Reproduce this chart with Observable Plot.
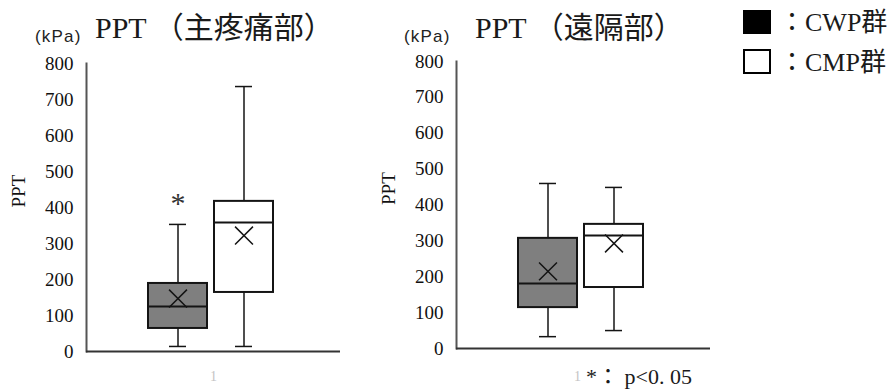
<!DOCTYPE html>
<html><head><meta charset="utf-8">
<script src="https://cdn.jsdelivr.net/npm/d3@7"></script>
<script src="https://cdn.jsdelivr.net/npm/@observablehq/plot@0.6"></script>
<style>
body{margin:0;background:#fff;}
#wrap{position:relative;width:894px;height:390px;overflow:hidden;font-family:"Liberation Serif","Noto Sans CJK JP",serif;color:#111;}
#wrap svg, #wrap svg text{font-family:"Liberation Serif","Noto Sans CJK JP",serif !important;}
#wrap svg{overflow:visible;background:transparent;}
.abs{position:absolute;white-space:nowrap;line-height:1;}
.title{font-size:30px;color:#1a1a1a;}
.unit{font-family:"Liberation Sans","Noto Sans CJK JP",sans-serif;font-size:17px;letter-spacing:1.2px;color:#222;}
.leg{font-size:26px;color:#1a1a1a;}
.sq{position:absolute;box-sizing:border-box;width:28px;}
.panel{position:absolute;top:0;}
</style></head><body>
<div id="wrap">
  <div class="abs unit" style="left:35px;top:28px;">(kPa)</div>
  <div class="abs title" style="left:95px;top:13px;">PPT （主疼痛部）</div>
  <div class="abs unit" style="left:404px;top:28px;">(kPa)</div>
  <div class="abs title" style="left:475px;top:13px;">PPT （遠隔部）</div>
  <div class="sq" style="left:743px;top:10px;height:24px;background:#000;"></div>
  <div class="sq" style="left:743px;top:49px;height:25px;background:#fff;border:2px solid #000;"></div>
  <div class="abs leg" style="left:779px;top:10px;">：CWP群</div>
  <div class="abs leg" style="left:779px;top:50px;">：CMP群</div>
  <div class="abs" style="left:586px;top:366px;font-size:22px;color:#1a1a1a;">*：&nbsp;p&lt;0.&nbsp;05</div>
  <div id="p1" class="panel" style="left:0px;"></div>
  <div id="p2" class="panel" style="left:370px;"></div>
</div>
<script>
const groups = ["CWP群", "CMP群"];
const groupFills = ["#7f7f7f", "#ffffff"];
const yTicks = [0, 100, 200, 300, 400, 500, 600, 700, 800];
const categoryLabel = "1";

// 主疼痛部 (main pain site)
const mainMin = [14, 14];
const mainQ1 = [64, 164];
const mainMedian = [125, 358];
const mainQ3 = [189, 417];
const mainMax = [353, 736];
const mainMean = [147, 322];
const mainSig = ["*", ""];

// 遠隔部 (remote site)
const remoteMin = [33, 50];
const remoteQ1 = [114, 170];
const remoteMedian = [181, 315];
const remoteQ3 = [307, 346];
const remoteMax = [460, 449];
const remoteMean = [215, 293];
const remoteSig = ["", ""];

function rows(mn, q1, med, q3, mx, mean, sig) {
  return groups.map((g, i) => ({group: g, min: mn[i], q1: q1[i], median: med[i], q3: q3[i], max: mx[i], mean: mean[i], sig: sig[i]}));
}

function panel(data, marginTop, marginBottom, labelDx, labelDy) {
  const ink = "#141414";
  return Plot.plot({
    width: 370, height: 390,
    marginLeft: 86, marginRight: 30, marginTop, marginBottom,
    x: {type: "band", domain: groups, range: [148, 274], paddingInner: 0.1, paddingOuter: 0, axis: null},
    y: {domain: [0, 800]},
    color: {domain: groups, range: groupFills},
    style: "font-family: 'Liberation Serif', 'Noto Sans CJK JP', serif; overflow: visible; background: transparent; color: #111;",
    marks: [
      Plot.axisY({ticks: yTicks, tickSize: 0, tickPadding: 13, label: null, fontSize: 19, fill: "#111", tickFormat: d => String(d)}),
      Plot.ruleX(data, {x: "group", y1: "min", y2: "max", stroke: ink, strokeWidth: 1.5}),
      Plot.tickY(data, {x: "group", y: "min", insetLeft: 21, insetRight: 21, stroke: ink, strokeWidth: 1.5}),
      Plot.tickY(data, {x: "group", y: "max", insetLeft: 21, insetRight: 21, stroke: ink, strokeWidth: 1.5}),
      Plot.barY(data, {x: "group", y1: "q1", y2: "q3", fill: "group", stroke: ink, strokeWidth: 2}),
      Plot.tickY(data, {x: "group", y: "median", stroke: ink, strokeWidth: 2}),
      Plot.dot(data, {x: "group", y: "mean", symbol: "times", r: 8.2, stroke: ink, strokeWidth: 1.5}),
      Plot.text(data, {x: "group", y: "max", text: "sig", dy: -21, fontSize: 30, fill: "#333"}),
      Plot.frame({anchor: "left", stroke: "#555", strokeWidth: 2}),
      Plot.ruleY([0], {stroke: "#333", strokeWidth: 2}),
      Plot.text([categoryLabel], {frameAnchor: "bottom", dy: labelDy, dx: labelDx, fill: "#c4c4c4", fontSize: 14}),
      Plot.text(["PPT"], {frameAnchor: "left", dx: -68, rotate: -90, fontSize: 19, fill: "#111"})
    ]
  });
}

document.getElementById("p1").append(panel(rows(mainMin, mainQ1, mainMedian, mainQ3, mainMax, mainMean, mainSig), 63, 39, 0, 29));
document.getElementById("p2").append(panel(rows(remoteMin, remoteQ1, remoteMedian, remoteQ3, remoteMax, remoteMean, remoteSig), 61, 42, -6, 32));
</script>
</body></html>
